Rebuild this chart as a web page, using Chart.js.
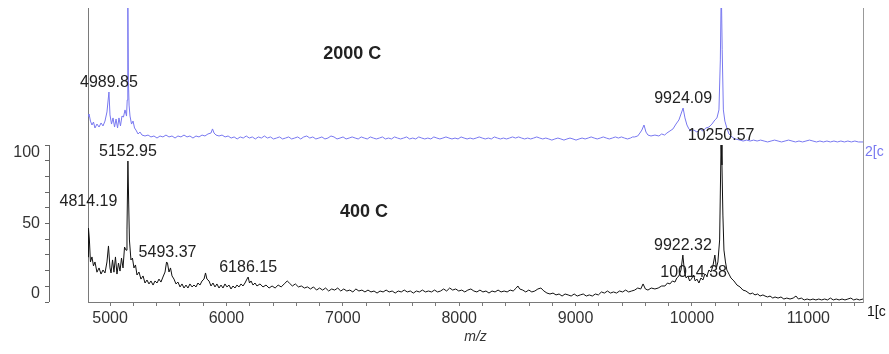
<!DOCTYPE html>
<html>
<head>
<meta charset="utf-8">
<script src="https://cdn.jsdelivr.net/npm/chart.js@4"></script>
<style>
  html, body { margin: 0; padding: 0; background: #fff; }
  canvas { display: block; }
</style>
</head>
<body>
<canvas id="spectrum" width="889" height="354"></canvas>
<script>
'use strict';

// --- DANE ---
const seriesNames = ['400 C', '2000 C'];
const channelNames = ['1[c', '2[c'];

// [m/z, intensity %]
const trace400 = [
  [4810, 28.7], [4814, 47], [4822, 39.5], [4831, 25.5], [4844, 28.7], [4857, 23], [4870, 25.5], [4887, 19],
  [4905, 21.7], [4922, 17.8], [4939, 20.4], [4956, 18.5], [4973, 25.5], [4986, 35.7], [4999, 21.7], [5008, 18.5],
  [5021, 26.8], [5033, 19], [5046, 28.7], [5059, 17.8], [5072, 24.8], [5085, 19.7], [5098, 28], [5111, 21.7],
  [5124, 35], [5137, 33], [5145, 45.9], [5153, 89.8], [5160, 61.8], [5166, 39.5], [5179, 26.8], [5192, 28],
  [5205, 21.7], [5218, 23.6], [5231, 17.2], [5248, 19.1], [5265, 14.6], [5283, 16.6], [5300, 12.1], [5317, 14],
  [5334, 11.5], [5351, 13.4], [5369, 10.8], [5386, 13.4], [5403, 12.1], [5420, 14.6], [5437, 12.7], [5454, 15.9],
  [5472, 19.1], [5485, 25.5], [5493, 24.8], [5506, 19.1], [5519, 21.7], [5532, 16.6], [5549, 14.6], [5566, 11.5],
  [5583, 12.7], [5601, 9.6], [5618, 11.5], [5635, 8.9], [5652, 10.8], [5669, 8.9], [5686, 11.5], [5704, 9.6],
  [5721, 10.8], [5738, 9.6], [5755, 12.1], [5772, 10.8], [5790, 13.4], [5807, 14.6], [5820, 18.5], [5832, 14.6],
  [5850, 13.4], [5867, 10.2], [5884, 12.1], [5901, 9.6], [5918, 11.5], [5936, 8.9], [5953, 10.8], [5970, 8.9],
  [5987, 11.5], [6004, 9.6], [6022, 10.8], [6039, 8.3], [6056, 10.2], [6073, 8.9], [6090, 10.8], [6108, 9.6],
  [6125, 11.5], [6142, 10.2], [6159, 12.1], [6176, 14.6], [6186, 15.9], [6198, 12.1], [6211, 13.4], [6228, 10.8],
  [6245, 12.1], [6262, 10.2], [6288, 11.5], [6314, 9.6], [6340, 10.8], [6366, 8.9], [6392, 10.2], [6418, 8.9],
  [6444, 10.8], [6470, 9.6], [6496, 11.5], [6522, 13.4], [6540, 12.1], [6566, 10.2], [6592, 11.5], [6618, 9.6],
  [6644, 10.2], [6670, 8.9], [6696, 9.6], [6722, 8.3], [6748, 9.6], [6774, 7.6], [6800, 8.9], [6826, 7.6],
  [6852, 8.9], [6878, 7], [6904, 8.3], [6930, 7.6], [6956, 8.9], [6982, 7], [7008, 8.3], [7034, 7],
  [7060, 7.6], [7086, 6.4], [7112, 8.3], [7138, 7], [7164, 7.6], [7190, 6.4], [7216, 7.6], [7242, 6.4],
  [7268, 7], [7294, 5.7], [7320, 7], [7346, 6.4], [7372, 7.6], [7398, 6.4], [7424, 7], [7450, 5.7],
  [7476, 7], [7502, 6.4], [7528, 7.6], [7554, 6.4], [7580, 7], [7606, 5.7], [7632, 7], [7658, 6.4],
  [7684, 7.6], [7710, 6.4], [7736, 7], [7762, 6.4], [7788, 7.6], [7814, 6.4], [7840, 7], [7866, 8.3],
  [7892, 7], [7918, 8.9], [7944, 7.6], [7970, 8.3], [7996, 7], [8022, 7.6], [8048, 6.4], [8074, 7.6],
  [8100, 8.3], [8126, 7], [8152, 6.4], [8178, 7.6], [8204, 6.4], [8230, 7], [8256, 5.7], [8282, 7],
  [8308, 6.4], [8334, 7.6], [8360, 6.4], [8386, 7], [8412, 6.4], [8438, 7.6], [8464, 7], [8490, 8.9],
  [8504, 10.2], [8520, 8.3], [8546, 7.6], [8572, 6.4], [8598, 7.6], [8624, 6.4], [8650, 7], [8676, 8.3],
  [8702, 8.9], [8728, 7], [8754, 5.7], [8780, 5.1], [8806, 5.7], [8832, 4.5], [8858, 5.1], [8884, 3.8],
  [8910, 5.1], [8936, 4.5], [8962, 3.8], [8988, 5.1], [9014, 3.8], [9040, 4.5], [9066, 5.1], [9092, 3.8],
  [9118, 4.5], [9144, 3.8], [9170, 5.1], [9196, 4.5], [9222, 6.4], [9248, 5.7], [9274, 7], [9300, 5.7],
  [9326, 6.4], [9352, 5.7], [9378, 7], [9404, 6.4], [9430, 7.6], [9456, 6.4], [9482, 7], [9508, 7.6],
  [9534, 8.9], [9560, 8.3], [9580, 11.5], [9600, 8.3], [9622, 7.6], [9650, 8.9], [9682, 8.3], [9710, 8.9],
  [9740, 10.2], [9768, 10.2], [9790, 12.1], [9811, 11.5], [9832, 13.4], [9854, 12.7], [9870, 15.3], [9888, 16.6],
  [9906, 20.4], [9922, 29.9], [9936, 19.1], [9950, 15.3], [9965, 16.6], [9980, 13.4], [9995, 14.6], [10014, 17.2],
  [10028, 13.4], [10043, 14.6], [10060, 12.1], [10077, 15.3], [10094, 14], [10111, 17.8], [10129, 16.6], [10146, 20.4],
  [10163, 19.1], [10180, 22.9], [10197, 29.9], [10210, 21.7], [10223, 25.5], [10238, 39.5], [10250, 100], [10258, 87.3],
  [10266, 55.4], [10275, 33.1], [10288, 25.5], [10300, 20.4], [10318, 17.8], [10335, 15.3], [10361, 13.4], [10387, 10.8],
  [10413, 9.6], [10438, 7.6], [10464, 7], [10499, 5.1], [10520, 5.7], [10542, 4.5], [10565, 5.1], [10585, 3.8],
  [10610, 4.5], [10628, 3.8], [10650, 3.2], [10671, 3.8], [10695, 2.5], [10714, 3.2], [10740, 2.5], [10765, 3.2],
  [10790, 1.9], [10815, 2.5], [10843, 1.9], [10870, 2.5], [10894, 3.8], [10915, 1.9], [10940, 2.5], [10965, 1.3],
  [10990, 1.9], [11015, 1.3], [11040, 1.9], [11065, 1.3], [11090, 1.9], [11115, 1.3], [11140, 1.9], [11165, 1.3],
  [11190, 2.5], [11215, 1.3], [11240, 1.9], [11265, 1.3], [11290, 1.9], [11315, 1.3], [11340, 1.9], [11365, 2.5],
  [11390, 1.3], [11415, 1.9], [11440, 1.3], [11470, 1.9]
];

const trace2000 = [
  [4810, 17.2], [4819, 19.1], [4831, 14.6], [4844, 12.1], [4857, 14], [4870, 10.2], [4887, 12.7], [4905, 10.8],
  [4922, 13.4], [4939, 11.5], [4956, 14.6], [4973, 20.4], [4990, 33.1], [4999, 18.5], [5012, 12.7], [5025, 16.6],
  [5038, 10.8], [5051, 15.9], [5064, 10.2], [5076, 16.6], [5089, 11.5], [5102, 17.8], [5115, 17.2], [5128, 21.7],
  [5141, 17.8], [5147, 28], [5152, 100], [5157, 40.8], [5163, 24.8], [5171, 17.8], [5184, 12.7], [5197, 14.6],
  [5210, 10.2], [5222, 8.9], [5240, 6.4], [5257, 7.6], [5274, 5.7], [5300, 5.1], [5326, 5.7], [5351, 4.5],
  [5377, 5.1], [5403, 3.8], [5429, 5.1], [5454, 4.5], [5480, 5.7], [5506, 4.5], [5532, 5.1], [5558, 3.8],
  [5583, 5.1], [5609, 4.5], [5635, 5.7], [5661, 4.5], [5686, 5.1], [5712, 3.8], [5738, 5.1], [5764, 4.5],
  [5790, 5.7], [5815, 5.1], [5841, 6.4], [5867, 7], [5880, 9.6], [5893, 7], [5910, 5.7], [5936, 5.1],
  [5962, 5.7], [5988, 4.5], [6014, 5.1], [6040, 3.8], [6066, 4.5], [6092, 3.2], [6118, 4.5], [6144, 3.8],
  [6170, 5.1], [6196, 3.8], [6222, 4.5], [6248, 3.2], [6274, 4.5], [6300, 3.8], [6326, 5.1], [6352, 3.8],
  [6378, 4.5], [6404, 3.2], [6430, 3.8], [6456, 4.5], [6482, 3.2], [6508, 3.8], [6534, 4.5], [6560, 3.2],
  [6586, 3.8], [6612, 4.5], [6638, 3.2], [6664, 4.5], [6690, 5.1], [6716, 3.8], [6742, 4.5], [6768, 3.2],
  [6794, 3.8], [6820, 4.5], [6846, 3.2], [6872, 3.8], [6898, 5.1], [6924, 4.5], [6950, 3.2], [6976, 3.8],
  [7002, 4.5], [7028, 3.2], [7054, 3.8], [7080, 4.5], [7106, 3.8], [7132, 3.2], [7158, 4.5], [7184, 3.8],
  [7210, 3.2], [7236, 4.5], [7262, 3.8], [7288, 3.2], [7314, 3.8], [7340, 4.5], [7366, 3.2], [7392, 3.8],
  [7418, 3.2], [7444, 4.5], [7470, 3.8], [7496, 3.2], [7522, 3.8], [7548, 4.5], [7574, 3.2], [7600, 3.8],
  [7626, 3.2], [7652, 4.5], [7678, 3.8], [7704, 3.2], [7730, 3.8], [7756, 3.2], [7782, 4.5], [7808, 3.8],
  [7834, 3.2], [7860, 3.8], [7886, 4.5], [7912, 3.8], [7938, 3.2], [7964, 3.8], [7990, 3.2], [8016, 4.5],
  [8042, 3.8], [8068, 3.2], [8094, 3.8], [8120, 3.2], [8146, 3.8], [8172, 4.5], [8198, 3.8], [8224, 3.2],
  [8250, 3.8], [8276, 3.2], [8302, 4.5], [8328, 3.8], [8354, 3.2], [8380, 3.8], [8406, 3.2], [8432, 3.8],
  [8458, 4.5], [8484, 3.8], [8510, 4.5], [8536, 3.8], [8562, 3.2], [8588, 3.8], [8614, 3.2], [8640, 3.8],
  [8666, 4.5], [8692, 3.8], [8718, 3.2], [8744, 3.8], [8770, 3.2], [8796, 2.5], [8822, 3.2], [8848, 3.8],
  [8874, 3.2], [8900, 2.5], [8926, 3.2], [8952, 3.8], [8978, 3.2], [9004, 2.5], [9030, 3.2], [9056, 3.8],
  [9082, 3.2], [9108, 3.8], [9134, 4.5], [9160, 3.8], [9186, 3.2], [9212, 3.8], [9238, 4.5], [9264, 3.8],
  [9290, 3.2], [9316, 3.8], [9342, 4.5], [9368, 3.8], [9394, 4.5], [9420, 3.8], [9446, 3.2], [9472, 3.8],
  [9490, 4.5], [9508, 4.5], [9534, 5.1], [9553, 7], [9570, 8.9], [9588, 12.1], [9605, 7.6], [9622, 5.7],
  [9648, 5.1], [9682, 5.7], [9716, 5.1], [9740, 6.4], [9765, 5.7], [9785, 7], [9811, 8.3], [9837, 9.6],
  [9863, 12.7], [9888, 15.3], [9906, 19.1], [9924, 22.9], [9940, 16.6], [9957, 12.1], [9974, 9.6], [9991, 8.3],
  [10017, 8.9], [10043, 7.6], [10069, 9.6], [10094, 8.3], [10120, 10.2], [10146, 10.8], [10172, 12.7], [10197, 15.3],
  [10215, 16.6], [10232, 21.7], [10244, 53.5], [10252, 100], [10260, 60], [10270, 21.7], [10283, 14.6], [10300, 10.2],
  [10318, 6.4], [10344, 4.5], [10370, 3.2], [10413, 2.5], [10440, 1.9], [10470, 2.5], [10500, 1.9], [10530, 2.5],
  [10560, 1.9], [10590, 2.5], [10620, 1.9], [10650, 1.3], [10680, 1.9], [10710, 2.5], [10740, 1.9], [10770, 1.3],
  [10800, 1.9], [10830, 2.5], [10860, 1.9], [10890, 1.3], [10920, 1.9], [10950, 1.3], [10980, 1.9], [11010, 2.5],
  [11040, 1.9], [11070, 1.3], [11100, 1.9], [11130, 1.3], [11160, 1.9], [11190, 1.3], [11220, 1.9], [11250, 1.3],
  [11280, 1.9], [11310, 1.3], [11340, 1.9], [11370, 1.3], [11400, 1.9], [11430, 1.3], [11470, 1.3]
];

// annotated peaks (m/z)
const peaks400 = [4814.19, 5152.95, 5493.37, 6186.15, 9922.32, 10014.38, 10250.57];
const peaks2000 = [4989.85, 9924.09];

// axis ticks
const xTickLabels = [5000, 6000, 7000, 8000, 9000, 10000, 11000];
const yTickLabels = [0, 50, 100];

// --- STYL ---
const FONT = 'Arial, "Liberation Sans", sans-serif';
const BLACK = '#111111';
const BLUE = '#7878f0';
const AXIS = '#7a7a7a';
const TEXT = '#222222';

Chart.defaults.font.family = FONT;

const xMinor = [];
for (let v = 5000; v <= 11400; v += 200) xMinor.push(v);
const yMinor = [];
for (let v = 0; v <= 100; v += 10) yMinor.push(v);

const labelNudge = { '4814.19': -18, '10014.38': 7 };

function peakTop(trace, mz) {
    let best = 0;
    trace.forEach(([x, y]) => { if (Math.abs(x - mz) <= 20 && y > best) best = y; });
    return best;
}

const annotations = {
    id: 'annotations',
    afterDraw(chart) {
        const { ctx, chartArea, scales } = chart;
        const x = scales.x, yB = scales.y, yT = scales.y2;

        ctx.save();
        // bracket of the 400 C intensity axis
        ctx.strokeStyle = '#666';
        ctx.lineWidth = 1;
        const bx = Math.round(yB.right) + 0.5;
        ctx.beginPath();
        ctx.moveTo(bx, yB.getPixelForValue(0));
        ctx.lineTo(bx, yB.getPixelForValue(100));
        ctx.stroke();

        // peak labels
        ctx.fillStyle = TEXT;
        ctx.font = '16px ' + FONT;
        ctx.textAlign = 'center';
        ctx.textBaseline = 'middle';
        const drawPeaks = (peaks, trace, scale) => {
            peaks.forEach(mz => {
                const txt = mz.toFixed(2);
                const py = scale.getPixelForValue(peakTop(trace, mz));
                ctx.fillText(txt, x.getPixelForValue(mz), py - 9 + (labelNudge[txt] || 0));
            });
        };
        drawPeaks(peaks400, trace400, yB);
        drawPeaks(peaks2000, trace2000, yT);

        // series titles
        ctx.font = 'bold 18px ' + FONT;
        ctx.fillText(seriesNames[1], x.getPixelForValue(7080), yT.getPixelForValue(57));
        ctx.fillText(seriesNames[0], x.getPixelForValue(7182), yB.getPixelForValue(57));

        // channel tags on the right
        ctx.font = '14px ' + FONT;
        ctx.textAlign = 'left';
        ctx.fillStyle = BLUE;
        ctx.fillText(channelNames[1], chartArea.right + 2, yT.getPixelForValue(0) + 8);
        ctx.fillStyle = BLACK;
        ctx.fillText(channelNames[0], chartArea.right + 4, chartArea.bottom + 10);
        ctx.restore();
    }
};

const toPoints = trace => trace.map(([x, y]) => ({ x, y }));

new Chart(document.getElementById('spectrum'), {
    type: 'line',
    data: {
        datasets: [
            {
                label: seriesNames[0],
                data: toPoints(trace400),
                yAxisID: 'y',
                borderColor: BLACK,
                borderWidth: 1,
                pointRadius: 0,
                tension: 0
            },
            {
                label: seriesNames[1],
                data: toPoints(trace2000),
                yAxisID: 'y2',
                borderColor: BLUE,
                borderWidth: 1,
                pointRadius: 0,
                tension: 0
            }
        ]
    },
    options: {
        responsive: false,
        animation: false,
        devicePixelRatio: 1,
        layout: { padding: { top: 8, left: 0, right: 0, bottom: 0 } },
        plugins: { legend: { display: false }, tooltip: { enabled: false } },
        scales: {
            x: {
                type: 'linear',
                position: 'bottom',
                min: 4810,
                max: 11470,
                afterBuildTicks: s => { s.ticks = xMinor.map(v => ({ value: v })); },
                afterFit: s => { s.height = 52; s.paddingLeft = 0; s.paddingRight = 0; },
                ticks: {
                    autoSkip: false,
                    maxRotation: 0,
                    padding: 3,
                    color: '#333',
                    font: { size: 16 },
                    callback: v => xTickLabels.includes(v) ? String(v) : ''
                },
                grid: { drawOnChartArea: false, tickLength: 4, color: AXIS },
                border: { color: AXIS },
                title: {
                    display: true,
                    text: 'm/z',
                    color: '#333',
                    font: { size: 14, style: 'italic' },
                    padding: { top: 0, bottom: 8 }
                }
            },
            y: {
                type: 'linear',
                position: 'left',
                weight: 1,
                min: 0,
                max: 187.3,
                afterBuildTicks: s => { s.ticks = yMinor.map(v => ({ value: v })); },
                afterFit: s => { s.width = 49; s.paddingTop = 0; s.paddingBottom = 0; },
                ticks: {
                    autoSkip: false,
                    padding: 5,
                    color: '#333',
                    font: { size: 16, lineHeight: 1 },
                    callback: v => {
                        if (!yTickLabels.includes(v)) return '';
                        if (v === 0) return ['0', ''];
                        if (v === 100) return ['', '100'];
                        return String(v);
                    }
                },
                grid: { drawOnChartArea: false, tickLength: 4, color: '#666' },
                border: { display: false }
            },
            y2: {
                type: 'linear',
                position: 'left',
                weight: 0,
                min: -100.6,
                max: 86.6,
                afterFit: s => { s.width = 39; s.paddingTop = 0; s.paddingBottom = 0; },
                ticks: { display: false },
                grid: { display: false, drawTicks: false },
                border: { display: true, color: AXIS }
            },
            yR: {
                type: 'linear',
                position: 'right',
                display: true,
                afterFit: s => { s.width = 26; s.paddingTop = 0; s.paddingBottom = 0; },
                ticks: { display: false },
                grid: { display: false, drawTicks: false },
                border: { display: true, color: '#999' }
            }
        }
    },
    plugins: [annotations]
});
</script>
</body>
</html>
